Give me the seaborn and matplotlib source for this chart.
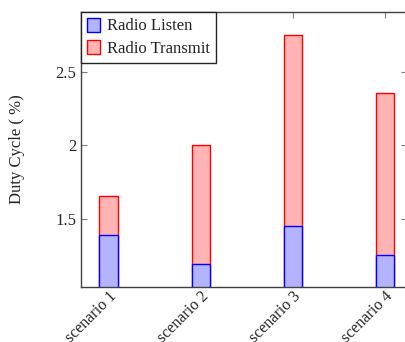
import pandas as pd
import matplotlib.pyplot as plt
import seaborn as sns
from matplotlib.patches import Patch

scenarios = ['scenario 1', 'scenario 2', 'scenario 3', 'scenario 4']
radio_listen = [1.39, 1.19, 1.45, 1.255]
radio_transmit = [0.266, 0.81, 1.30, 1.105]

df = pd.DataFrame({'scenario': scenarios, 'listen': radio_listen, 'transmit': radio_transmit})
df['total'] = df['listen'] + df['transmit']

sns.set_style('ticks')
plt.rcParams['font.family'] = ['Liberation Serif', 'DejaVu Serif']
plt.rcParams['font.size'] = 12

blue_fill, blue_edge = '#b3b3ff', '#0000ff'
red_fill, red_edge = '#ffb3b3', '#ff0000'

fig = plt.figure(figsize=(4.06, 3.42), dpi=100)
ax = fig.add_axes([0.1995, 0.161, 0.8035, 0.804])

# stacked: draw total first (transmit on top), then listen over it
sns.barplot(data=df, x='scenario', y='total', color=red_fill, edgecolor=red_edge,
            linewidth=1.0, width=0.2, saturation=1, ax=ax)
sns.barplot(data=df, x='scenario', y='listen', color=blue_fill, edgecolor=blue_edge,
            linewidth=1.0, width=0.2, saturation=1, ax=ax)

ax.set_xlim(-0.3, 3.24)
ax.set_ylim(1.037, 2.908)
ax.set_yticks([1.5, 2, 2.5])
ax.set_yticklabels(['1.5', '2', '2.5'])
ax.set_xlabel('')
ax.set_ylabel('Duty Cycle ( %)', labelpad=22)

ax.tick_params(direction='in', top=True, right=True, color='0.5', length=4, labelsize=12)
ax.tick_params(axis='x', pad=1, labelsize=11.5)
plt.setp(ax.get_xticklabels(), rotation=45, ha='right', rotation_mode='anchor')
for s in ax.spines.values():
    s.set_color('0.25')
    s.set_linewidth(1.0)

handles = [Patch(facecolor=blue_fill, edgecolor=blue_edge, label='Radio Listen'),
           Patch(facecolor=red_fill, edgecolor=red_edge, label='Radio Transmit')]
leg = ax.legend(handles=handles, loc='upper left', bbox_to_anchor=(0, 1), borderaxespad=0,
                fancybox=False, framealpha=1, edgecolor='0.15', handlelength=0.8,
                handleheight=0.9, handletextpad=0.4, labelspacing=0.35, borderpad=0.35,
                fontsize=12)
leg.get_frame().set_linewidth(1.0)

fig.savefig('out.png', dpi=100)
plt.close(fig)
